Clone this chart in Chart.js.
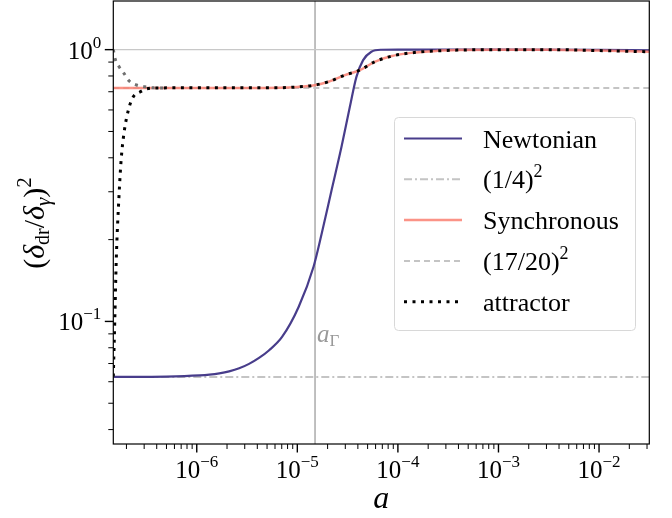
<!DOCTYPE html>
<html>
<head>
<meta charset="utf-8">
<script src="https://cdn.jsdelivr.net/npm/chart.js@4"></script>
<style>
  html, body { margin: 0; padding: 0; background: #fff; }
  canvas { display: block; }
</style>
</head>
<body>
<canvas id="chart" width="672" height="518"></canvas>
<script>
// axis range
const aMin = 1.48e-7;
const aMax = 3.16e-2;
const ratioMin = 0.0354;
const ratioMax = 1.51;

// Newtonian gauge
const newtonianA = [1.48e-7, 5e-7, 1.064e-6, 1.336e-6, 1.676e-6, 2.1e-6, 2.64e-6, 3.31e-6, 4.16e-6, 5.21e-6, 7.05e-6, 1.03e-5, 1.45e-5, 1.75e-5, 2.19e-5, 2.75e-5, 3.33e-5, 3.87e-5, 4.51e-5, 5.45e-5, 6.8e-5, 1e-4, 1e-3, 1e-2, 3.16e-2];
const newtonianR = [0.0625, 0.0627, 0.0633, 0.0637, 0.0644, 0.0655, 0.0672, 0.0698, 0.0734, 0.0782, 0.0877, 0.113, 0.159, 0.211, 0.304, 0.439, 0.616, 0.794, 0.915, 0.982, 0.999, 1.0, 1.0, 0.998, 0.995];

// synchronous gauge
const synchronousA = [1.48e-7, 1e-6, 3e-6, 6.55e-6, 1e-5, 1.48e-5, 2.04e-5, 2.97e-5, 4.18e-5, 5.87e-5, 8.7e-5, 1.35e-4, 2.47e-4, 3.9e-4, 1e-3, 3.16e-3, 1e-2, 3.16e-2];
const synchronousR = [0.7225, 0.7225, 0.7228, 0.724, 0.729, 0.740, 0.762, 0.806, 0.840, 0.902, 0.947, 0.973, 0.990, 0.996, 1.0, 1.0, 0.992, 0.982];

// attractor (from the Newtonian start)
const attractorA = [1.48e-7, 1.53e-7, 1.585e-7, 1.69e-7, 1.77e-7, 1.89e-7, 2.09e-7, 2.34e-7, 2.72e-7, 3.12e-7, 3.74e-7, 1e-6, 3e-6, 6.55e-6, 1e-5, 1.48e-5, 2.04e-5, 2.97e-5, 4.18e-5, 5.87e-5, 8.7e-5, 1.35e-4, 2.47e-4, 3.9e-4, 1e-3, 3.16e-3, 1e-2, 3.16e-2];
const attractorR = [0.0627, 0.10, 0.17, 0.294, 0.392, 0.493, 0.599, 0.671, 0.698, 0.716, 0.723, 0.7235, 0.7238, 0.724, 0.729, 0.740, 0.762, 0.806, 0.840, 0.902, 0.947, 0.973, 0.990, 0.996, 1.0, 1.0, 0.992, 0.982];

// attractor (from the synchronous start, grey, not in legend)
const attractorSyncA = [1.48e-7, 1.55e-7, 1.69e-7, 1.89e-7, 2.12e-7, 2.52e-7, 3.05e-7, 3.72e-7, 5e-7];
const attractorSyncR = [1.0, 0.92, 0.865, 0.818, 0.768, 0.741, 0.730, 0.7235, 0.7225];

// limits and marker
const newtonianLimit = (1 / 4) ** 2;
const syncLimit = (17 / 20) ** 2;
const aGamma = 1.5e-5;

// tick labels (powers of ten)
const xTickExps = [-6, -5, -4, -3, -2];
const yTickExps = [-1, 0];

const FONT = '"Liberation Serif", "DejaVu Serif", serif';

const toPoints = (xs, ys) => xs.map((x, i) => ({ x: x, y: ys[i] }));

// draw text made of pieces (sub / superscripts)
const setFont = (ctx, p) => {
    ctx.font = (p.italic ? 'italic ' : '') + p.size + 'px ' + FONT;
};
const richWidth = (ctx, parts) => {
    let w = 0;
    parts.forEach(p => {
        setFont(ctx, p);
        w += ctx.measureText(p.text).width + (p.gap || 0);
    });
    return w;
};
const drawRich = (ctx, parts, x, y, align) => {
    const w = richWidth(ctx, parts);
    let cx = align === 'center' ? x - w / 2 : align === 'right' ? x - w : x;
    ctx.textAlign = 'left';
    ctx.textBaseline = 'alphabetic';
    parts.forEach(p => {
        setFont(ctx, p);
        ctx.fillText(p.text, cx, y + (p.dy || 0));
        cx += ctx.measureText(p.text).width + (p.gap || 0);
    });
};
const powerLabel = (n) => [
    { text: '10', size: 25 },
    { text: (n < 0 ? '\u2212' : '') + Math.abs(n), size: 17, dy: -11 }
];

// frame, ticks, labels, titles and legend
const decorPlugin = {
    id: 'decor',
    afterDraw(chart) {
        const ctx = chart.ctx;
        const area = chart.chartArea;
        const xs = chart.scales.x;
        const ys = chart.scales.y;
        ctx.save();
        ctx.strokeStyle = '#000';
        ctx.fillStyle = '#000';

        // frame
        ctx.lineWidth = 1.2;
        ctx.strokeRect(area.left, area.top, area.right - area.left, area.bottom - area.top);

        // ticks
        const drawTicks = (scale, horizontal) => {
            const lo = Math.floor(Math.log10(scale.min));
            const hi = Math.ceil(Math.log10(scale.max));
            for (let n = lo; n <= hi; n++) {
                for (let m = 1; m <= 9; m++) {
                    const v = m * Math.pow(10, n);
                    if (v < scale.min * 0.999 || v > scale.max * 1.001) continue;
                    const p = scale.getPixelForValue(v);
                    const len = m === 1 ? 8.5 : 5;
                    ctx.lineWidth = m === 1 ? 1.4 : 1;
                    ctx.beginPath();
                    if (horizontal) {
                        ctx.moveTo(p, area.bottom);
                        ctx.lineTo(p, area.bottom + len);
                    } else {
                        ctx.moveTo(area.left, p);
                        ctx.lineTo(area.left - len, p);
                    }
                    ctx.stroke();
                }
            }
        };
        drawTicks(xs, true);
        drawTicks(ys, false);

        // tick labels
        xTickExps.forEach(n => {
            drawRich(ctx, powerLabel(n), xs.getPixelForValue(Math.pow(10, n)), area.bottom + 34, 'center');
        });
        yTickExps.forEach(n => {
            drawRich(ctx, powerLabel(n), area.left - 12, ys.getPixelForValue(Math.pow(10, n)) + 9, 'right');
        });

        // x title
        drawRich(ctx, [{ text: 'a', size: 32, italic: true }], (area.left + area.right) / 2, 508, 'center');

        // y title
        ctx.save();
        ctx.translate(34, 223);
        ctx.rotate(-Math.PI / 2);
        drawRich(ctx, [
            { text: '(', size: 30 },
            { text: '\u03b4', size: 30, italic: true },
            { text: 'dr', size: 20, dy: 5 },
            { text: '/', size: 30 },
            { text: '\u03b4', size: 30, italic: true },
            { text: '\u03b3', size: 21, italic: true, dy: 6 },
            { text: ')', size: 30 },
            { text: '2', size: 21, dy: -13 }
        ], 0, 10, 'center');
        ctx.restore();

        // a_Gamma label
        ctx.fillStyle = '#999';
        drawRich(ctx, [
            { text: 'a', size: 25, italic: true },
            { text: '\u0393', size: 17, dy: 4 }
        ], xs.getPixelForValue(aGamma) + 2, ys.getPixelForValue(0.084), 'left');

        // legend
        const box = { x: 394, y: 117, w: 241, h: 213 };
        ctx.fillStyle = 'rgba(255,255,255,0.85)';
        ctx.strokeStyle = '#d8d8d8';
        ctx.lineWidth = 1;
        ctx.beginPath();
        ctx.roundRect(box.x + 0.5, box.y + 0.5, box.w, box.h, 4);
        ctx.fill();
        ctx.stroke();

        const items = chart.data.datasets
            .filter(d => d.legendText)
            .sort((a, b) => a.legendRank - b.legendRank);
        items.forEach((d, i) => {
            const y = 138.5 + i * 40.8;
            ctx.strokeStyle = d.borderColor;
            ctx.lineWidth = d.borderWidth;
            ctx.setLineDash(d.borderDash || []);
            ctx.lineCap = 'butt';
            ctx.beginPath();
            ctx.moveTo(404, y);
            ctx.lineTo(462, y);
            ctx.stroke();
            ctx.setLineDash([]);
            ctx.fillStyle = '#000';
            drawRich(ctx, d.legendText, 483, y + 9, 'left');
        });
        ctx.restore();
    }
};

const myChart = document.getElementById('chart');

const chart = new Chart(myChart, {
    type: 'line',
    data: {
        datasets: [
            {
                legendText: [{ text: 'attractor', size: 26 }],
                legendRank: 4,
                data: toPoints(attractorA, attractorR),
                borderColor: '#000',
                borderWidth: 3,
                borderDash: [3, 5.5],
                cubicInterpolationMode: 'monotone',
                order: 0
            },
            {
                data: toPoints(attractorSyncA, attractorSyncR),
                borderColor: '#707070',
                borderWidth: 3,
                borderDash: [3, 5.5],
                cubicInterpolationMode: 'monotone',
                order: 1
            },
            {
                legendText: [{ text: 'Synchronous', size: 26 }],
                legendRank: 2,
                data: toPoints(synchronousA, synchronousR),
                borderColor: 'rgba(250,128,114,0.85)',
                borderWidth: 2.5,
                cubicInterpolationMode: 'monotone',
                order: 2
            },
            {
                legendText: [{ text: 'Newtonian', size: 26 }],
                legendRank: 0,
                data: toPoints(newtonianA, newtonianR),
                borderColor: '#483d8b',
                borderWidth: 2.2,
                cubicInterpolationMode: 'monotone',
                order: 3
            },
            {
                legendText: [{ text: '(17/20)', size: 26 }, { text: '2', size: 18, dy: -11 }],
                legendRank: 3,
                data: toPoints([aMin, aMax], [syncLimit, syncLimit]),
                borderColor: '#c4c4c4',
                borderWidth: 2,
                borderDash: [6, 4],
                order: 4
            },
            {
                legendText: [{ text: '(1/4)', size: 26 }, { text: '2', size: 18, dy: -11 }],
                legendRank: 1,
                data: toPoints([aMin, aMax], [newtonianLimit, newtonianLimit]),
                borderColor: '#c4c4c4',
                borderWidth: 2,
                borderDash: [8, 3, 2, 3],
                order: 5
            },
            {
                data: toPoints([aMin, aMax], [1, 1]),
                borderColor: '#c8c8c8',
                borderWidth: 1.2,
                order: 6
            },
            {
                data: toPoints([aGamma, aGamma], [ratioMin, ratioMax]),
                borderColor: '#b0b0b0',
                borderWidth: 1.6,
                order: 6
            }
        ]
    },
    options: {
        responsive: false,
        animation: false,
        devicePixelRatio: 1,
        events: [],
        layout: { padding: { top: 1, right: 22.7, left: 0, bottom: 0 } },
        elements: { point: { radius: 0 }, line: { fill: false } },
        plugins: { legend: { display: false }, tooltip: { enabled: false } },
        scales: {
            x: {
                type: 'logarithmic',
                min: aMin,
                max: aMax,
                grid: { display: false },
                border: { display: false },
                ticks: { display: false },
                afterFit: (s) => { s.height = 74; }
            },
            y: {
                type: 'logarithmic',
                min: ratioMin,
                max: ratioMax,
                grid: { display: false },
                border: { display: false },
                ticks: { display: false },
                afterFit: (s) => { s.width = 113.3; }
            }
        }
    },
    plugins: [decorPlugin]
});
</script>
</body>
</html>
